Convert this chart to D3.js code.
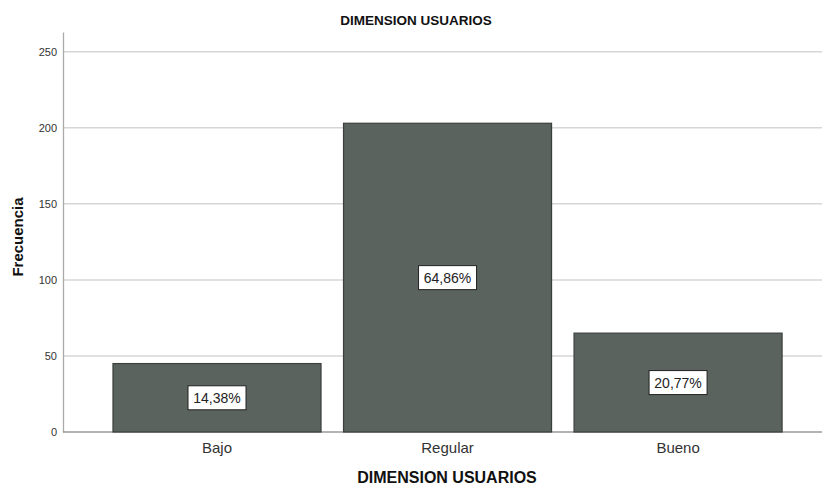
<!DOCTYPE html>
<html><head><meta charset="utf-8">
<script src="https://cdn.jsdelivr.net/npm/d3@7"></script>
<style>body{margin:0;background:#fff}svg{display:block}text{font-family:"Liberation Sans",Arial,sans-serif}</style>
</head><body>
<svg id="c" width="822" height="485"></svg>
<script>
const categories = ["Bajo", "Regular", "Bueno"];
const counts = [45, 203, 65];
const percentLabels = ["14,38%", "64,86%", "20,77%"];
const yTicks = [0, 50, 100, 150, 200, 250];
const chartTitle = "DIMENSION USUARIOS";
const xTitle = "DIMENSION USUARIOS";
const yTitle = "Frecuencia";

(function () {
const svg = d3.select("#c");
const pLeft = 63, pRight = 822, pTop = 32, pBottom = 432;
const y = d3.scaleLinear().domain([0, 263]).range([pBottom, pTop]);
const x = d3.scaleBand().domain(categories).range([pLeft, pRight])
  .paddingInner(0.0976).paddingOuter(0.195).align(0.556);

// gridlines
svg.append("g").selectAll("line").data(yTicks.filter(d => d > 0)).join("line")
  .attr("x1", pLeft).attr("x2", pRight)
  .attr("y1", d => y(d)).attr("y2", d => y(d))
  .attr("stroke", "#d6d6d6").attr("stroke-width", 1.5);

// y axis
const ya = svg.append("g").attr("transform", `translate(${pLeft},0)`)
  .call(d3.axisLeft(y).tickValues(yTicks).tickSize(0).tickPadding(6));
ya.select(".domain").attr("stroke", "#aaaaaa").attr("stroke-width", 1.3);
ya.selectAll(".tick text").attr("fill", "#333").style("font-size", "11px");

// baseline
svg.append("line").attr("x1", pLeft).attr("x2", pRight)
  .attr("y1", y(0)).attr("y2", y(0)).attr("stroke", "#9a9a9a").attr("stroke-width", 1.3);

// bars
svg.append("g").selectAll("rect").data(categories).join("rect")
  .attr("x", d => x(d)).attr("width", x.bandwidth())
  .attr("y", (d, i) => y(counts[i])).attr("height", (d, i) => y(0) - y(counts[i]))
  .attr("fill", "#5a635d").attr("stroke", "#3b403d").attr("stroke-width", 1.2);

// labels
const lg = svg.append("g").selectAll("g").data(categories).join("g")
  .attr("transform", (d, i) => `translate(${x(d) + x.bandwidth() / 2},${y(counts[i] / 2)})`);
lg.append("rect").attr("x", -29).attr("y", -12).attr("width", 58).attr("height", 24)
  .attr("fill", "#fff").attr("stroke", "#222").attr("stroke-width", 1);
lg.append("text").attr("text-anchor", "middle").attr("dy", "0.36em")
  .style("font-size", "14px").attr("fill", "#222").text((d, i) => percentLabels[i]);

// x category labels
svg.append("g").selectAll("text").data(categories).join("text")
  .attr("x", d => x(d) + x.bandwidth() / 2).attr("y", 453)
  .attr("text-anchor", "middle").style("font-size", "15px").attr("fill", "#333").text(d => d);

// titles
svg.append("text").attr("x", 416).attr("y", 25).attr("text-anchor", "middle")
  .style("font-size", "13.5px").style("font-weight", "bold").attr("fill", "#111").text(chartTitle);
svg.append("text").attr("x", 447).attr("y", 483).attr("text-anchor", "middle")
  .style("font-size", "16px").style("font-weight", "bold").attr("fill", "#111").text(xTitle);
svg.append("text").attr("transform", "translate(23,237) rotate(-90)").attr("text-anchor", "middle")
  .style("font-size", "15px").style("font-weight", "bold").attr("fill", "#111").text(yTitle);
})();
</script>
</body></html>
